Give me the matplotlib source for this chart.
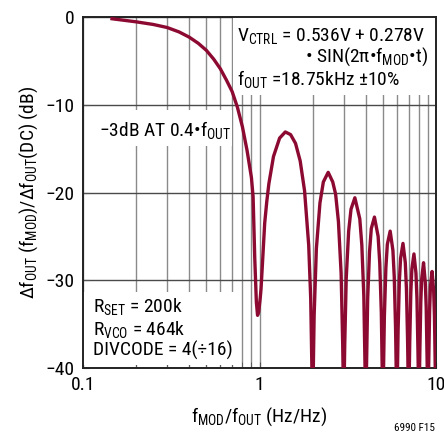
import matplotlib
matplotlib.use("Agg")
import matplotlib.pyplot as plt
from matplotlib.patches import Rectangle
from matplotlib.ticker import LogLocator, NullFormatter, FixedLocator, FixedFormatter

plt.rcParams['font.family'] = ['Roboto Condensed', 'DejaVu Sans']
plt.rcParams['mathtext.fontset'] = 'custom'
plt.rcParams['mathtext.rm'] = 'Roboto Condensed'
plt.rcParams['mathtext.it'] = 'Roboto Condensed'
plt.rcParams['mathtext.default'] = 'rm'

# f_MOD/f_OUT vs normalised response (dB)
ratio = [0.146, 0.2, 0.25, 0.3, 0.35, 0.4, 0.45, 0.5, 0.55, 0.6, 0.65, 0.7, 0.75,
         0.8, 0.85, 0.9, 0.92, 0.94, 0.96, 0.975, 0.99, 1.01, 1.02, 1.04, 1.07,
         1.1, 1.13, 1.2, 1.3, 1.4, 1.5, 1.6, 1.7, 1.8, 1.9, 1.95, 2.0,
         2.04, 2.1, 2.2, 2.3, 2.45, 2.6, 2.7, 2.8, 2.9, 2.96, 3.0,
         3.04, 3.1, 3.2, 3.3, 3.47, 3.7, 3.8, 3.9, 3.96, 4.0,
         4.1, 4.2, 4.3, 4.48, 4.7, 4.8, 4.9, 5.0,
         5.1, 5.2, 5.3, 5.5, 5.7, 5.8, 5.9, 6.0,
         6.1, 6.2, 6.3, 6.5, 6.7, 6.8, 6.9, 7.0,
         7.1, 7.2, 7.3, 7.5, 7.7, 7.8, 7.9, 8.0,
         8.1, 8.2, 8.3, 8.5, 8.7, 8.8, 8.9, 9.0,
         9.1, 9.2, 9.3, 9.5, 9.7, 9.8, 9.9, 10.0]
response_db = [-0.2, -0.55, -0.85, -1.2, -1.7, -2.3, -3.0, -3.8, -4.8, -5.9, -7.2, -8.5, -10.3,
               -12.5, -15.2, -18.3, -20.5, -27.5, -32.5, -34.0, -33.6, -32.0, -31.0, -28.0, -23.5,
               -21.0, -19.0, -15.9, -13.8, -13.1, -13.4, -14.4, -16.4, -19.8, -26.0, -32.0, -45,
               -34.0, -26.4, -21.2, -18.8, -17.7, -18.8, -20.2, -23.3, -29.2, -37.2, -45,
               -37.4, -29.8, -24.4, -21.9, -20.6, -23.0, -26.0, -31.8, -39.7, -45,
               -32.2, -26.8, -24.1, -22.8, -25.0, -28.0, -33.7, -45,
               -34.1, -28.6, -25.9, -24.4, -26.6, -29.6, -35.4, -45,
               -35.7, -30.1, -27.5, -25.8, -28.0, -31.0, -36.7, -45,
               -37.0, -31.4, -28.7, -27.0, -29.2, -32.1, -37.9, -45,
               -38.1, -32.5, -29.8, -28.0, -30.3, -33.1, -38.9, -45,
               -39.1, -33.5, -30.7, -29.0, -31.2, -34.1, -39.9, -45]

x_ticks = [0.1, 1, 10]
x_tick_labels = ['0.1', '1', '10']
y_ticks = [0, -10, -20, -30, -40]
y_tick_labels = ['0', '\u221210', '\u221220', '\u221230', '\u221240']

fig = plt.figure(figsize=(4.44, 4.37), dpi=100)
ax = fig.add_axes([83 / 444, 69 / 437, 353 / 444, 351 / 437])

ax.set_xscale('log')
ax.set_xlim(0.1, 10)
ax.set_ylim(-40, 0)

ax.xaxis.set_major_locator(FixedLocator(x_ticks))
ax.xaxis.set_major_formatter(FixedFormatter(x_tick_labels))
ax.xaxis.set_minor_locator(LogLocator(base=10, subs=range(2, 10)))
ax.xaxis.set_minor_formatter(NullFormatter())
ax.set_yticks(y_ticks)
ax.set_yticklabels(y_tick_labels)

ax.grid(which='both', axis='x', color='#8a8a8a', lw=1.0, zorder=0)
ax.grid(which='major', axis='y', color='#4a4a4a', lw=1.0, zorder=0)
ax.set_axisbelow(True)

ax.tick_params(which='both', direction='in', labelsize=14, color='#555555')
ax.tick_params(which='major', length=4, pad=6)
ax.tick_params(which='minor', length=4)
for s in ax.spines.values():
    s.set_linewidth(1.4)
    s.set_color('#222222')


def px(xp, yp):
    # figure pixel -> axes fraction
    return ((xp - 83) / 353, (368 - yp) / 351)


# white label boxes hiding the grid
for (x0, y0, x1, y1) in [(233, 17, 436, 95),
                         (94, 110, 232, 146),
                         (83, 292, 238, 365)]:
    ax0, ay1 = px(x0, y0)
    ax1, ay0 = px(x1, y1)
    ax.add_patch(Rectangle((ax0, ay0), ax1 - ax0, ay1 - ay0, transform=ax.transAxes,
                           facecolor='white', edgecolor='none', zorder=1))

ax.plot(ratio, response_db, color='#8c0a32', lw=2.4, zorder=3, solid_joinstyle='round')

fs = 14
tr = ax.transAxes
ax.text(*px(237, 41), r'V$_{\mathrm{CTRL}}$ = 0.536V + 0.278V', transform=tr, fontsize=fs,
        ha='left', va='baseline', zorder=4)
ax.text(*px(428, 62), r'• SIN(2π•f$_{\mathrm{MOD}}$•t)', transform=tr, fontsize=fs,
        ha='right', va='baseline', zorder=4)
ax.text(*px(237, 85), r'f$_{\mathrm{OUT}}$ =18.75kHz ±10%', transform=tr, fontsize=fs,
        ha='left', va='baseline', zorder=4)
ax.text(*px(99, 136), '\u22123dB AT 0.4•f$_{\\mathrm{OUT}}$', transform=tr, fontsize=fs,
        ha='left', va='baseline', zorder=4)
ax.text(*px(93, 312), r'R$_{\mathrm{SET}}$ = 200k', transform=tr, fontsize=fs,
        ha='left', va='baseline', zorder=4)
ax.text(*px(93, 335), r'R$_{\mathrm{VCO}}$ = 464k', transform=tr, fontsize=fs,
        ha='left', va='baseline', zorder=4)
ax.text(*px(93, 356), 'DIVCODE = 4(÷16)', transform=tr, fontsize=fs,
        ha='left', va='baseline', zorder=4)

ax.set_xlabel(r'f$_{\mathrm{MOD}}$/f$_{\mathrm{OUT}}$ (Hz/Hz)', fontsize=fs, labelpad=8)
ax.set_ylabel(r'Δf$_{\mathrm{OUT}}$ (f$_{\mathrm{MOD}}$)/Δf$_{\mathrm{OUT}}$(DC) (dB)',
              fontsize=fs, labelpad=4)

fig.text(435 / 444, 1 - 428 / 437, '6990 F15', fontsize=8, ha='right', va='center')

fig.savefig('out.png', dpi=100)
